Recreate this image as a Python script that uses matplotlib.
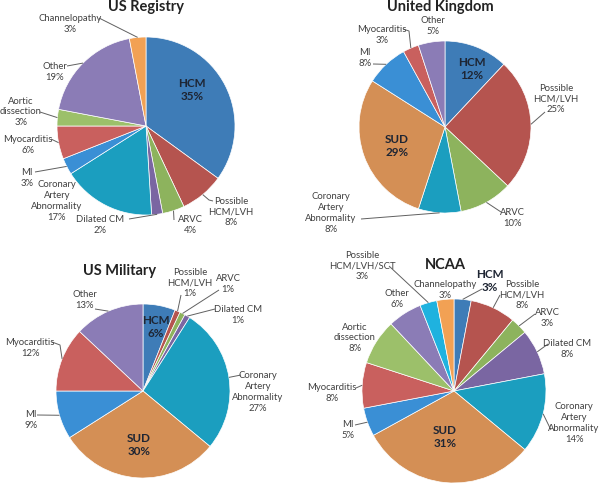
import numpy as np
import matplotlib
matplotlib.use("Agg")
import matplotlib.pyplot as plt

plt.rcParams['font.family'] = ['Lato', 'DejaVu Sans']

# ---------------- data ----------------
us_registry_labels = ["HCM", "Possible\nHCM/LVH", "ARVC", "Dilated CM", "Coronary\nArtery\nAbnormality",
                      "MI", "Myocarditis", "Aortic\ndissection", "Other", "Channelopathy"]
us_registry_values = [35, 8, 4, 2, 17, 3, 6, 3, 19, 3]

uk_labels = ["HCM", "Possible\nHCM/LVH", "ARVC", "Coronary\nArtery\nAbnormality", "SUD", "MI",
             "Myocarditis", "Other"]
uk_values = [12, 25, 10, 8, 29, 8, 3, 5]

us_military_labels = ["HCM", "Possible\nHCM/LVH", "ARVC", "Dilated CM", "Coronary\nArtery\nAbnormality",
                      "SUD", "MI", "Myocarditis", "Other"]
us_military_values = [6, 1, 1, 1, 27, 30, 9, 12, 13]

ncaa_labels = ["HCM", "Possible\nHCM/LVH", "ARVC", "Dilated CM", "Coronary\nArtery\nAbnormality", "SUD",
               "MI", "Myocarditis", "Aortic\ndissection", "Other", "Possible\nHCM/LVH/SCT", "Channelopathy"]
ncaa_values = [3, 8, 3, 8, 14, 31, 5, 8, 8, 6, 3, 3]

titles = ["US Registry", "United Kingdom", "US Military", "NCAA"]

# ---------------- styles ----------------
cat_colors = {
    "HCM": "#3E7CB7",
    "Possible\nHCM/LVH": "#B5544F",
    "ARVC": "#8DB35D",
    "Dilated CM": "#7A66A2",
    "Coronary\nArtery\nAbnormality": "#1B9EBF",
    "MI": "#3A8FD5",
    "Myocarditis": "#C9605E",
    "Aortic\ndissection": "#9CC06A",
    "Other": "#8B7CB6",
    "Channelopathy": "#F2A154",
    "SUD": "#D48F55",
    "Possible\nHCM/LVH/SCT": "#1FB2DF",
}

W, H = 600, 484
fig = plt.figure(figsize=(6.0, 4.84), dpi=100)
ax = fig.add_axes([0, 0, 1, 1])


def Y(y):
    return H - y


# layout: pie center/radius (pixels), title pos, label positions and leader points
layouts = [
    dict(c=(146, 126), r=89, title=(146, 7),
         lab={0: ((192, 90), None), 1: ((231, 212), [(213, 201), (209, 200)]),
              2: ((190, 225), [(174, 220)]), 3: ((100, 225), [(129, 219)]),
              4: ((57, 201), None), 5: ((27, 178), [(35, 172)]),
              6: ((28, 145), [(51, 139)]), 7: ((21, 112), [(40, 112)]),
              8: ((55, 72), [(67, 66)]), 9: ((70, 24), [(99, 18)])}),
    dict(c=(445, 127), r=86, title=(440, 7),
         lab={0: ((472, 69), None), 1: ((556, 99), [(545, 112)]),
              2: ((512, 218), [(501, 212)]), 3: ((331, 213), [(361, 219)]),
              4: ((397, 146), None), 5: ((365, 58), [(373, 64)]),
              6: ((382, 35), [(403, 29), (409, 31)]), 7: ((433, 26), None)}),
    dict(c=(143, 391), r=87, title=(120, 271),
         lab={0: ((156, 327), None), 1: ((190, 283), [(181, 295)]),
              2: ((228, 284), [(219, 290)]), 3: ((238, 315), [(215, 309)]),
              4: ((258, 392), [(241, 375)]), 5: ((139, 445), None),
              6: ((31, 420), [(37, 415)]), 7: ((30, 348), [(52, 342), (60, 345)]),
              8: ((85, 300), [(95, 309)])}),
    dict(c=(454, 391), r=92, title=(445, 265),
         lab={0: ((490, 281), [(482, 289)]), 1: ((522, 295), [(500, 295)]),
              2: ((547, 318), [(535, 314)]), 3: ((567, 349), [(548, 344)]),
              4: ((574, 423), [(551, 430)]), 5: ((445, 437), None),
              6: ((348, 430), [(355, 425)]), 7: ((332, 393), [(356, 388)]),
              8: ((355, 338), None), 9: ((397, 299), None),
              10: ((362, 266), [(389, 266)]), 11: ((445, 290), None)}),
]

datasets = [(us_registry_labels, us_registry_values),
            (uk_labels, uk_values),
            (us_military_labels, us_military_values),
            (ncaa_labels, ncaa_values)]

bold_inside = {"HCM", "SUD"}
text_color = "#404040"
lead_color = "#606060"

for (labels, values), lay, title in zip(datasets, layouts, titles):
    cx, cy = lay["c"]
    r = lay["r"]
    cols = [cat_colors[l] for l in labels]
    ax.pie(values, colors=cols, startangle=90, counterclock=False,
           center=(cx, Y(cy)), radius=r,
           wedgeprops=dict(edgecolor="white", linewidth=0.5))
    ax.text(lay["title"][0], Y(lay["title"][1]), title, ha="center", va="center",
            fontsize=10.5, fontweight="bold", color="#222222")
    total = float(sum(values))
    cum = np.cumsum([0] + list(values)) / total
    for i, (lbl, v) in enumerate(zip(labels, values)):
        (tx, ty), lead = lay["lab"][i]
        txt = f"{lbl}\n{v}%"
        if lbl in bold_inside:
            ax.text(tx, Y(ty), txt, ha="center", va="center", fontsize=8.4,
                    fontweight="bold", color="#1E2533", linespacing=1.3)
        else:
            ax.text(tx, Y(ty), txt, ha="center", va="center", fontsize=6.8,
                    color=text_color, linespacing=1.25)
        if lead:
            th = np.deg2rad(360 * (cum[i] + cum[i + 1]) / 2)
            ex, ey = cx + r * np.sin(th), cy - r * np.cos(th)
            pts = list(lead) + [(ex, ey)]
            ax.plot([p[0] for p in pts], [Y(p[1]) for p in pts], color=lead_color,
                    lw=0.7, solid_capstyle="butt")

ax.set_xlim(0, W)
ax.set_ylim(0, H)
ax.set_aspect("auto")
ax.axis("off")
fig.savefig("out.png", dpi=100, facecolor="white")
